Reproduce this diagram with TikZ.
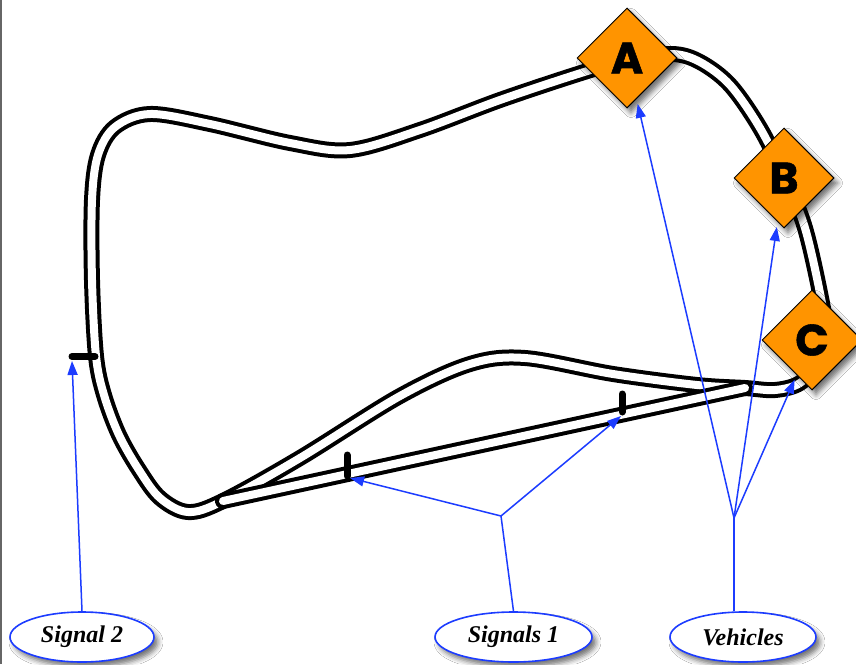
\documentclass[tikz,border=0pt]{standalone}
\usepackage{fontspec}
\newfontfamily\markfont{Poppins}[BoldFeatures={FakeBold=1.2}]
\newfontfamily\labelfont{Liberation Serif}
\usetikzlibrary{shapes.geometric,arrows.meta,shadows.blur}
\definecolor{stationorange}{RGB}{255,148,0}
\definecolor{linkblue}{RGB}{28,60,255}
\tikzset{
  track/.style={line width=4pt, double=white, double distance=8pt, line join=round},
  branch/.style={track, line cap=round},
  signalbar/.style={black, line width=7pt, line cap=round},
  softshadow/.style={blur shadow={shadow xshift=4pt, shadow yshift=-5pt,
      shadow blur radius=5pt, shadow opacity=55}},
  station/.style={diamond, draw=black, line width=1pt, fill=stationorange,
      minimum width=100pt, minimum height=100pt, inner sep=0pt, softshadow,
      font=\markfont\bfseries\fontsize{44}{44}\selectfont},
  tag/.style={ellipse, draw=linkblue, line width=1.6pt, fill=white,
      minimum height=50pt, inner sep=0pt, softshadow,
      font=\labelfont\bfseries\itshape\fontsize{24}{24}\selectfont},
  link/.style={linkblue, line width=1.5pt},
  pointer/.style={link, -{Triangle[length=14pt,width=10pt]}},
}
\begin{document}
\begin{tikzpicture}[x=1pt, y=-1pt]
\useasboundingbox (0,0) rectangle (856,664);
\fill[white] (0,0) rectangle (856,664);
\fill[black!60] (0,0) rectangle (1.6,664);

% main loop of track, running through the upper siding
\draw[track] plot[smooth cycle, tension=0.55] coordinates {
  (223,501) (300,458) (400,396) (470,364) (525,358) (613,374) (697,385)
  (745,388) (775,390) (800,383) (818,362) (825,330) (821,298) (805,228)
  (785,178) (760,128) (730,85) (700,62) (672,54) (627,60) (581,73)
  (500,100) (420,130) (350,150) (290,143) (210,124) (150,114) (115,127)
  (98,155) (92,200) (92,280) (96,356) (104,395) (119,435) (139,470)
  (160,498) (188,512)};

% straight lower branch between the two junctions
\coordinate (jleft) at (223,501);
\coordinate (jright) at (745,388);
\draw[branch] (jleft) -- (jright);

% signals
\coordinate (s2a) at (72,356.5);
\coordinate (s2b) at (95,356.5);
\coordinate (s1a-top) at (347,455);
\coordinate (s1a-bot) at (347,476);
\coordinate (s1b-top) at (622,394);
\coordinate (s1b-bot) at (622,412);
\draw[signalbar] (s2a) -- (s2b);
\draw[signalbar] (s1a-top) -- (s1a-bot);
\draw[signalbar] (s1b-top) -- (s1b-bot);

% vehicles
\node[station] (A) at (627,58) {A};
\node[station] (B) at (784,178) {B};
\node[station] (C) at (812,340) {C};

% legend tags
\node[tag, minimum width=144pt] (sig2) at (82,637) {Signal 2};
\node[tag, minimum width=157pt] (sig1) at (513.5,637) {Signals 1};
\node[tag, minimum width=146pt] (veh) at (743,637) {Vehicles};

% pointers
\coordinate (s2-tip) at (72,361);
\coordinate (s1a-tip) at (350,478);
\coordinate (s1b-tip) at (621,416);
\coordinate (j1) at (501,516);
\coordinate (j2) at (734,518);

\draw[pointer] (sig2.north) -- (s2-tip);
\draw[link] (sig1.north) -- (j1);
\draw[pointer] (j1) -- (s1a-tip);
\draw[pointer] (j1) -- (s1b-tip);
\draw[link] (j2 |- veh.north) -- (j2);
\draw[pointer, shorten >=5pt] (j2) -- (A);
\draw[pointer, shorten >=5pt] (j2) -- (B);
\draw[pointer, shorten >=5pt] (j2) -- (C);
\end{tikzpicture}
\end{document}
